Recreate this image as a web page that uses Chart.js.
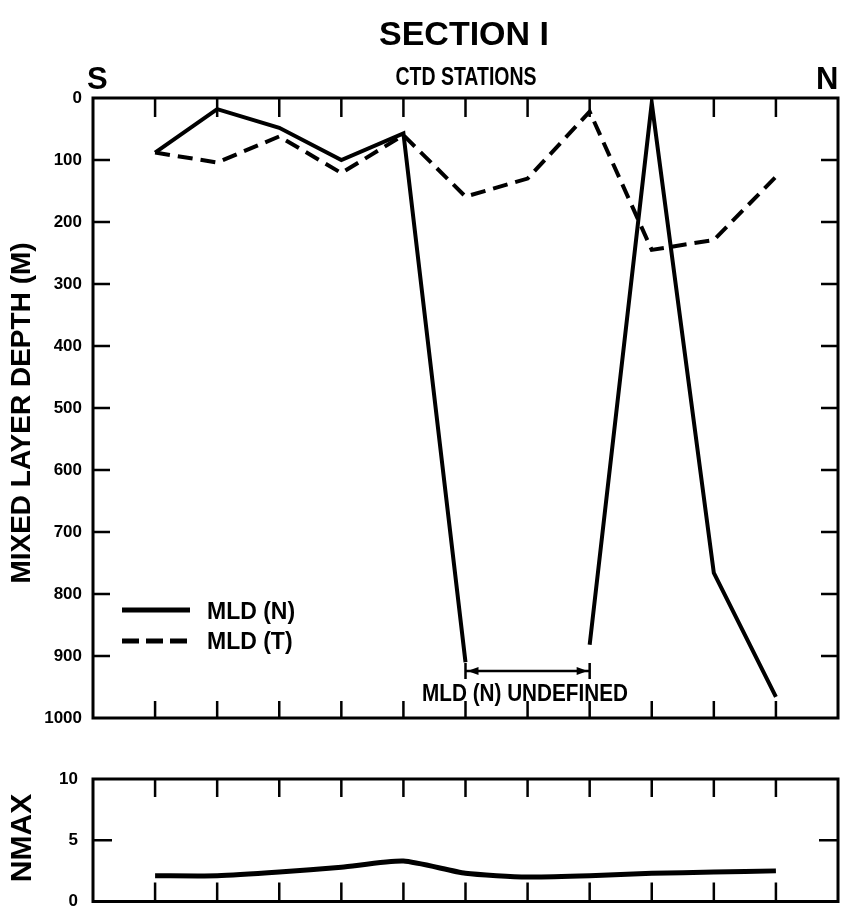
<!DOCTYPE html>
<html>
<head>
<meta charset="utf-8">
<script src="https://cdn.jsdelivr.net/npm/chart.js@4.4.1/dist/chart.umd.min.js"></script>
<style>
    body { margin: 0; background: #fff; width: 848px; height: 910px; overflow: hidden; position: relative;
           font-family: "Liberation Sans", Arial, sans-serif; font-weight: bold; color: #000; }
    .txt { position: absolute; white-space: nowrap; line-height: 1; }
    #top-wrap { position: absolute; left: 0; top: 0; width: 848px; height: 740px; }
    #low-wrap { position: absolute; left: 0; top: 760px; width: 848px; height: 150px; }
</style>
</head>
<body>
<div id="top-wrap"><canvas id="mld-chart" width="848" height="740"></canvas></div>
<div id="low-wrap"><canvas id="nmax-chart" width="848" height="150"></canvas></div>

<div class="txt" style="left:464px; top:16px; font-size:34px; transform:translateX(-50%);">SECTION I</div>
<div class="txt" style="left:466px; top:64px; font-size:25px; transform:translateX(-50%) scaleX(0.78);">CTD STATIONS</div>
<div class="txt" style="left:87px; top:63px; font-size:31px;">S</div>
<div class="txt" style="left:816px; top:63px; font-size:31px;">N</div>
<div class="txt" style="left:21px; top:413px; font-size:28px; transform:translate(-50%,-50%) rotate(-90deg);">MIXED LAYER DEPTH (M)</div>
<div class="txt" style="left:21px; top:838px; font-size:30px; transform:translate(-50%,-50%) rotate(-90deg);">NMAX</div>
<div class="txt" style="left:207px; top:600px; font-size:23px;">MLD (N)</div>
<div class="txt" style="left:207px; top:630px; font-size:23px;">MLD (T)</div>
<div class="txt" style="left:525px; top:682px; font-size:23px; transform:translateX(-50%) scaleX(0.9);">MLD (N) UNDEFINED</div>

<script>
// Data
const stations = [1, 2, 3, 4, 5, 6, 7, 8, 9, 10, 11];
const mldN = [88, 18, 48, 100, 57, 910, null, 882, 8, 766, 966];   // solid, undefined at st. 7
const mldT = [88, 104, 62, 121, 60, 159, 130, 22, 245, 229, 127];  // dashed
const nmax = [2.1, 2.1, 2.4, 2.8, 3.3, 2.3, 2.0, 2.1, 2.3, 2.4, 2.5];
const depthTicks = [0, 100, 200, 300, 400, 500, 600, 700, 800, 900, 1000];
const nmaxTicks = [0, 5, 10];
const undefinedFrom = 6, undefinedTo = 8, undefinedDepth = 924;

const tickFont = { family: '"Liberation Sans", Arial, sans-serif', weight: 'bold', size: 17, lineHeight: 1 };

function pts(ys) {
    return stations.map((s, i) => ({ x: s, y: ys[i] }));
}

// y axis setup shared by both panels; the label gap comes from an invisible tick
function yAxis(min, max, tickList, gap, reverse) {
    return {
        type: 'linear', min: min, max: max, reverse: reverse,
        afterBuildTicks: scale => { scale.ticks = tickList.map(v => ({ value: v })); },
        afterFit: scale => { scale.width = 93; },
        ticks: { color: '#000', font: tickFont, padding: 0, callback: v => String(v) },
        grid: { display: true, drawOnChartArea: false, drawTicks: true, tickLength: gap, color: 'rgba(0,0,0,0)' },
        border: { display: false }
    };
}

// Frame with inward tick marks, like the original plot
const framePlugin = {
    id: 'frame',
    afterDraw(chart, args, opts) {
        const { ctx, chartArea: a, scales } = chart;
        ctx.save();
        ctx.strokeStyle = '#000';
        ctx.lineWidth = 3;
        ctx.strokeRect(a.left, a.top, a.right - a.left, a.bottom - a.top);
        ctx.lineWidth = 2.5;
        ctx.beginPath();
        stations.forEach(s => {
            const x = scales.x.getPixelForValue(s);
            ctx.moveTo(x, a.top); ctx.lineTo(x, a.top + opts.topLen);
            ctx.moveTo(x, a.bottom); ctx.lineTo(x, a.bottom - opts.bottomLen);
        });
        opts.yTicks.forEach(v => {
            if (v === scales.y.min || v === scales.y.max) return;
            const y = scales.y.getPixelForValue(v);
            ctx.moveTo(a.left, y); ctx.lineTo(a.left + opts.sideLen, y);
            ctx.moveTo(a.right, y); ctx.lineTo(a.right - opts.sideLen, y);
        });
        ctx.stroke();
        ctx.restore();
    }
};

// Legend lines and the "undefined" bracket for the top chart
const extrasPlugin = {
    id: 'extras',
    afterDraw(chart) {
        const { ctx, chartArea: a, scales } = chart;
        ctx.save();
        ctx.strokeStyle = '#000';
        ctx.fillStyle = '#000';

        // legend
        ctx.lineWidth = 5;
        ctx.beginPath();
        ctx.moveTo(a.left + 29, 610); ctx.lineTo(a.left + 97, 610);
        ctx.stroke();
        ctx.setLineDash([17, 7]);
        ctx.beginPath();
        ctx.moveTo(a.left + 29, 641); ctx.lineTo(a.left + 94, 641);
        ctx.stroke();
        ctx.setLineDash([]);

        // bracket
        const x1 = scales.x.getPixelForValue(undefinedFrom);
        const x2 = scales.x.getPixelForValue(undefinedTo);
        const y = scales.y.getPixelForValue(undefinedDepth);
        ctx.lineWidth = 2.5;
        ctx.beginPath();
        ctx.moveTo(x1, y); ctx.lineTo(x2, y);
        ctx.moveTo(x1, y - 8); ctx.lineTo(x1, y + 8);
        ctx.moveTo(x2, y - 8); ctx.lineTo(x2, y + 8);
        ctx.stroke();
        ctx.beginPath();
        ctx.moveTo(x1 + 2, y); ctx.lineTo(x1 + 13, y - 4); ctx.lineTo(x1 + 13, y + 4); ctx.closePath();
        ctx.moveTo(x2 - 2, y); ctx.lineTo(x2 - 13, y - 4); ctx.lineTo(x2 - 13, y + 4); ctx.closePath();
        ctx.fill();
        ctx.restore();
    }
};

// Top chart: mixed layer depth
new Chart(document.getElementById('mld-chart'), {
    type: 'line',
    data: {
        datasets: [
            { label: 'MLD (N)', data: pts(mldN), borderColor: '#000', borderWidth: 4,
              pointRadius: 0, spanGaps: false, borderJoinStyle: 'miter', tension: 0 },
            { label: 'MLD (T)', data: pts(mldT), borderColor: '#000', borderWidth: 4,
              borderDash: [15, 8], pointRadius: 0, borderJoinStyle: 'miter', tension: 0 }
        ]
    },
    options: {
        responsive: false,
        animation: false,
        layout: { padding: { top: 98, right: 10, bottom: 22, left: 0 } },
        plugins: {
            legend: { display: false },
            tooltip: { enabled: false },
            frame: { topLen: 19, bottomLen: 17, sideLen: 17, yTicks: depthTicks }
        },
        scales: {
            x: { type: 'linear', min: 0, max: 12, display: false },
            y: yAxis(0, 1000, depthTicks, 11, true)
        }
    },
    plugins: [framePlugin, extrasPlugin]
});

// Bottom chart: NMAX
new Chart(document.getElementById('nmax-chart'), {
    type: 'line',
    data: {
        datasets: [
            { label: 'NMAX', data: pts(nmax), borderColor: '#000', borderWidth: 5,
              pointRadius: 0, tension: 0.2 }
        ]
    },
    options: {
        responsive: false,
        animation: false,
        layout: { padding: { top: 19, right: 10, bottom: 7, left: 0 } },
        plugins: {
            legend: { display: false },
            tooltip: { enabled: false },
            frame: { topLen: 18, bottomLen: 19, sideLen: 19, yTicks: nmaxTicks }
        },
        scales: {
            x: { type: 'linear', min: 0, max: 12, display: false },
            y: yAxis(0, 10, nmaxTicks, 15, false)
        }
    },
    plugins: [framePlugin]
});
</script>
</body>
</html>
